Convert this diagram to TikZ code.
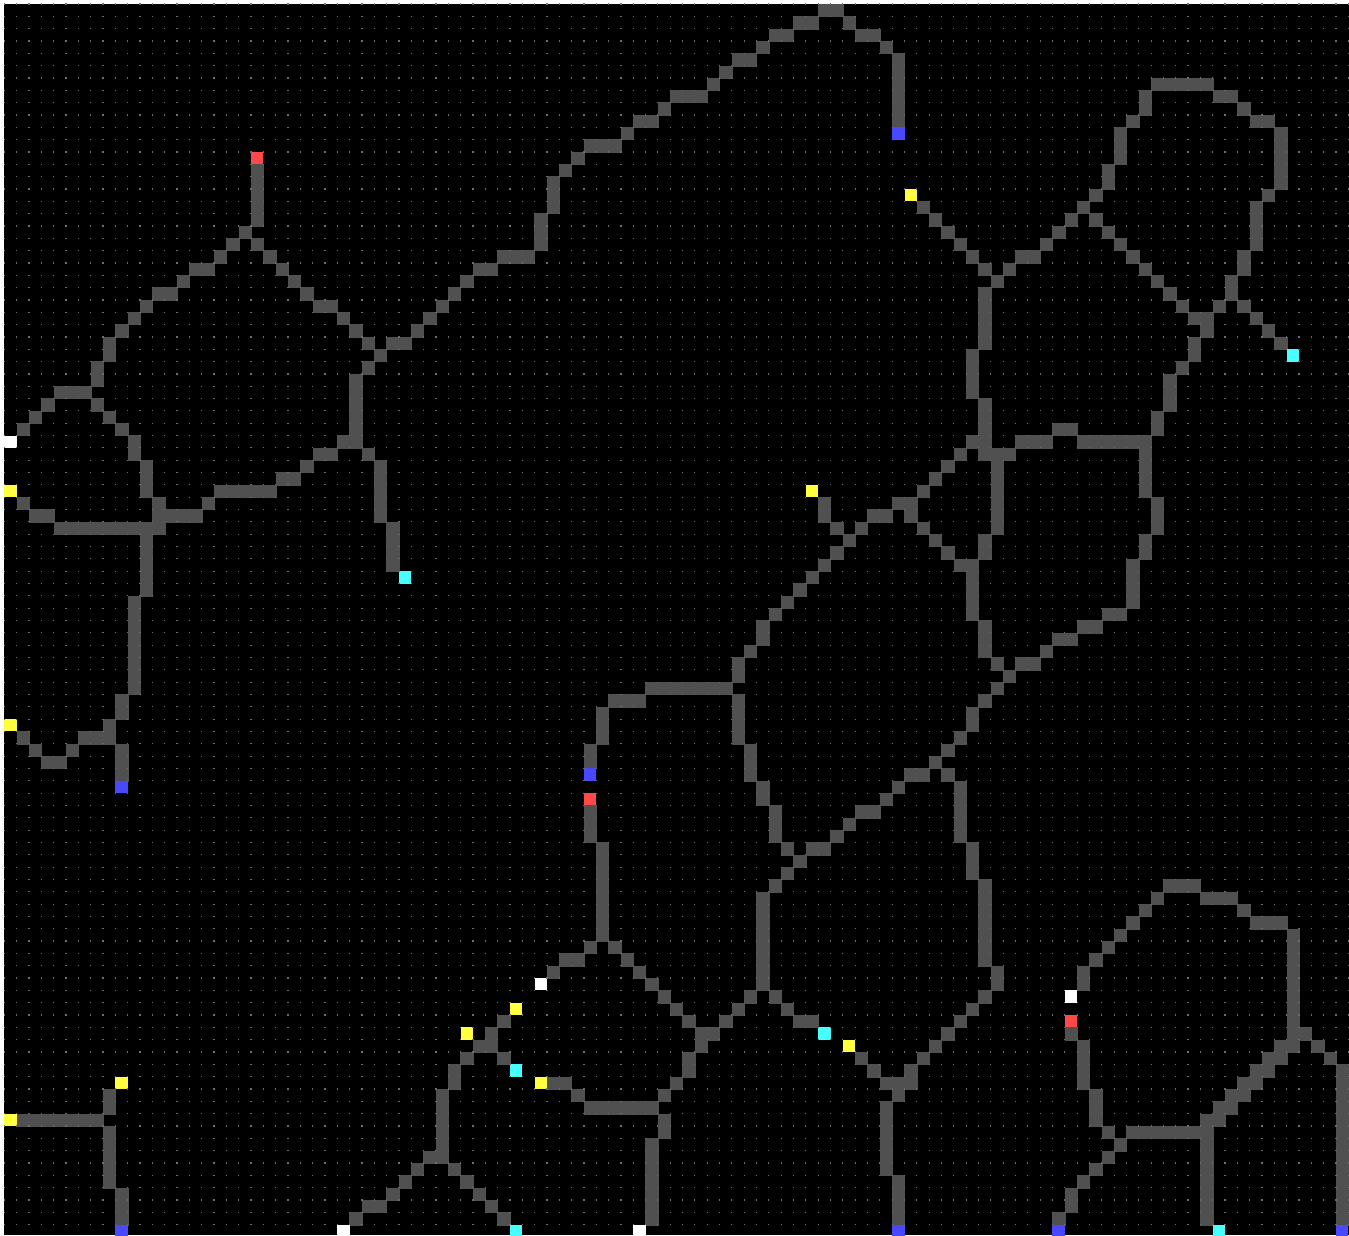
\documentclass[tikz,border=0pt]{standalone}
\usepackage{tikz}
\definecolor{linec}{HTML}{505050}
\definecolor{dotc}{HTML}{6E6E6E}
\definecolor{redc}{HTML}{FF4848}
\definecolor{bluec}{HTML}{4848FF}
\definecolor{cyanc}{HTML}{48FFFF}
\definecolor{yellowc}{HTML}{FFFF40}
\definecolor{whitec}{HTML}{FFFFFF}
\tikzset{
  linecell/.style={fill=linec,draw=linec,line width=0.3pt},
  redcell/.style={fill=redc},
  bluecell/.style={fill=bluec},
  cyancell/.style={fill=cyanc},
  yellowcell/.style={fill=yellowc},
  whitecell/.style={fill=whitec},
  dotrow/.style={draw=dotc,line width=1.2pt,dash pattern=on 1.2pt off 11.13pt}
}
\newcommand\Ccell[3]{\path[#1] ({4.4+12.33*(#2)},{4+12.33*(#3)}) rectangle ++(12.33,12.33);}
\newcommand\Gcell[2]{\Ccell{linecell}{#1}{#2}}
\newcommand\Hrun[3]{\foreach \k in {#2,...,#3}{\Gcell{\k}{#1}}}
\newcommand\Vrun[3]{\foreach \k in {#2,...,#3}{\Gcell{#1}{\k}}}
\newcommand\Drun[4]{\foreach \k in {1,...,#3}{\Gcell{#1+(#4)*(\k-1)}{#2+\k-1}}}
\begin{document}
\begin{tikzpicture}[x=1pt,y=-1pt]
\useasboundingbox (0,0) rectangle (1349,1235);
\clip (0,0) rectangle (1349,1235);
\fill[white] (0,0) rectangle (1349,1235);
\fill[black] (4.4,4) rectangle (1349,1235);
% ---------- top-left ----------
\Vrun{20}{13}{17}
\Gcell{19}{18}\Gcell{18}{19}\Gcell{17}{20}
\Hrun{21}{15}{16}
\Gcell{14}{22}
\Hrun{23}{12}{13}
\Drun{11}{24}{3}{-1}
\Vrun{8}{27}{28}
\Vrun{7}{29}{30}
\Hrun{31}{4}{6}
\Drun{3}{32}{3}{-1}
\Drun{7}{32}{3}{1}
\Vrun{10}{35}{36}
\Vrun{11}{37}{39}
\Vrun{12}{40}{42}
\Drun{20}{19}{5}{1}
\Hrun{24}{25}{26}
\Drun{27}{25}{4}{1}
\Gcell{29}{29}
\Vrun{28}{30}{35}
\Gcell{27}{35}
\Hrun{36}{25}{26}
\Gcell{24}{37}
\Hrun{38}{22}{23}
\Hrun{39}{17}{21}
\Gcell{16}{40}
\Hrun{41}{13}{15}
\Gcell{29}{36}
\Vrun{30}{37}{41}
\Vrun{31}{42}{45}
\Hrun{27}{31}{32}
\Drun{37}{22}{5}{-1}
\Hrun{21}{38}{39}
\Hrun{20}{40}{42}
\Vrun{43}{17}{19}
\Vrun{44}{14}{16}
\Gcell{45}{13}\Gcell{46}{12}
\Hrun{11}{47}{49}
\Gcell{50}{10}
\Hrun{9}{51}{52}
\Gcell{53}{8}
\Hrun{7}{54}{56}
\Gcell{57}{6}\Gcell{58}{5}
\Hrun{4}{59}{60}
\Gcell{61}{3}
\Hrun{2}{62}{63}
\Hrun{1}{64}{65}
\Hrun{0}{66}{67}
\Gcell{68}{1}
\Hrun{2}{69}{70}
\Gcell{71}{3}
\Vrun{72}{4}{9}
% ---------- left ----------
\Gcell{1}{40}
\Hrun{41}{2}{3}
\Hrun{42}{4}{12}
\Vrun{11}{43}{47}
\Vrun{10}{48}{55}
\Vrun{9}{56}{57}
\Gcell{8}{58}
\Hrun{59}{6}{8}
\Gcell{5}{60}
\Hrun{61}{3}{4}
\Gcell{2}{60}\Gcell{1}{59}
\Vrun{9}{60}{62}
% ---------- bottom-left ----------
\Vrun{8}{88}{89}
\Hrun{90}{1}{7}
\Vrun{8}{91}{95}
\Vrun{9}{96}{98}
% ---------- bottom centre-left ----------
\Gcell{28}{98}
\Hrun{97}{29}{30}
\Drun{33}{94}{3}{-1}
\Hrun{93}{34}{35}
\Vrun{35}{88}{92}
\Vrun{36}{86}{87}
\Gcell{37}{85}
\Hrun{84}{38}{39}
\Gcell{39}{83}
\Gcell{40}{82}
\Gcell{40}{85}
\Drun{36}{94}{5}{1}
\Hrun{87}{44}{45}
\Gcell{46}{88}
\Hrun{89}{47}{52}
% ---------- middle ----------
\Vrun{66}{40}{41}
\Gcell{67}{42}\Gcell{68}{43}\Gcell{69}{42}
\Hrun{41}{70}{71}
\Hrun{40}{72}{73}
\Drun{73}{41}{4}{1}
\Hrun{45}{77}{78}
\Vrun{78}{46}{49}
\Vrun{79}{50}{52}
\Gcell{80}{53}\Gcell{81}{54}\Gcell{80}{55}\Gcell{79}{56}
\Vrun{78}{57}{58}
\Drun{77}{59}{3}{-1}
\Hrun{62}{73}{74}
\Gcell{72}{63}\Gcell{71}{64}
\Hrun{65}{69}{70}
\Gcell{68}{66}\Gcell{67}{67}
\Hrun{68}{65}{66}
\Drun{64}{69}{3}{-1}
\Vrun{61}{72}{79}
\Drun{60}{80}{3}{-1}
\Hrun{83}{56}{57}
\Gcell{56}{84}
\Vrun{55}{85}{86}
\Gcell{54}{87}\Gcell{53}{88}
\Vrun{53}{90}{91}
\Vrun{52}{92}{98}
\Gcell{76}{62}
\Vrun{77}{63}{67}
\Vrun{78}{68}{70}
\Vrun{79}{71}{77}
\Vrun{80}{78}{79}
\Drun{79}{80}{6}{-1}
\Vrun{73}{86}{87}
\Gcell{72}{87}\Gcell{71}{87}\Gcell{72}{88}
\Vrun{71}{89}{94}
\Vrun{72}{95}{98}
\Gcell{70}{86}\Gcell{69}{85}
\Drun{67}{44}{6}{-1}
\Vrun{61}{50}{51}
\Gcell{60}{52}
\Vrun{59}{53}{54}
\Hrun{55}{52}{58}
\Hrun{56}{49}{51}
\Vrun{48}{57}{59}
\Vrun{47}{60}{61}
\Vrun{47}{65}{67}
\Vrun{48}{68}{75}
\Gcell{47}{76}
\Hrun{77}{45}{46}
\Gcell{44}{78}
\Drun{49}{76}{7}{1}
\Vrun{59}{56}{59}
\Vrun{60}{60}{62}
\Vrun{61}{63}{64}
\Vrun{62}{65}{67}
\Gcell{63}{68}
\Drun{62}{80}{2}{1}
\Hrun{82}{64}{65}
% ---------- upper right ----------
\Drun{74}{16}{7}{1}
\Vrun{79}{23}{27}
\Vrun{78}{28}{31}
\Vrun{79}{32}{36}
\Hrun{36}{80}{81}
\Vrun{80}{37}{42}
\Vrun{79}{43}{44}
\Gcell{81}{21}
\Hrun{20}{82}{83}
\Drun{88}{15}{5}{-1}
\Vrun{89}{13}{14}
\Vrun{90}{10}{12}
\Gcell{91}{9}
\Vrun{92}{7}{8}
\Hrun{6}{93}{97}
\Hrun{7}{98}{99}
\Gcell{100}{8}
\Hrun{9}{101}{102}
\Vrun{103}{10}{14}
\Gcell{102}{15}
\Vrun{101}{16}{19}
\Vrun{100}{20}{21}
\Vrun{99}{22}{23}
\Gcell{98}{24}
\Hrun{25}{96}{97}
\Gcell{97}{26}
\Vrun{96}{27}{28}
\Gcell{95}{29}
\Vrun{94}{30}{32}
\Vrun{93}{33}{34}
\Hrun{35}{87}{92}
\Hrun{34}{85}{86}
\Hrun{35}{82}{84}
\Drun{88}{17}{9}{1}
\Drun{100}{24}{4}{1}
\Drun{78}{35}{5}{-1}
\Vrun{92}{36}{39}
\Vrun{93}{40}{42}
\Vrun{92}{43}{44}
\Vrun{91}{45}{48}
\Hrun{49}{89}{90}
\Hrun{50}{87}{88}
\Hrun{51}{85}{86}
\Gcell{84}{52}
\Hrun{53}{82}{83}
% ---------- bottom right ----------
\Gcell{86}{83}
\Vrun{87}{84}{87}
\Vrun{88}{88}{90}
\Gcell{89}{91}\Gcell{90}{92}
\Drun{89}{93}{3}{-1}
\Vrun{86}{96}{97}
\Gcell{85}{98}
\Vrun{87}{78}{79}
\Drun{93}{72}{6}{-1}
\Hrun{71}{94}{96}
\Hrun{72}{97}{99}
\Gcell{100}{73}
\Hrun{74}{101}{103}
\Vrun{104}{75}{83}
\Drun{105}{83}{3}{1}
\Vrun{108}{86}{98}
\Hrun{84}{103}{104}
\Hrun{85}{102}{103}
\Hrun{86}{101}{102}
\Hrun{87}{100}{101}
\Hrun{88}{99}{100}
\Hrun{89}{98}{99}
\Hrun{90}{97}{98}
\Hrun{91}{91}{97}
\Vrun{97}{92}{98}
% ---------- coloured end cells ----------
\foreach \i/\j in {20/12,47/64,86/82}{\Ccell{redcell}{\i}{\j}}
\foreach \i/\j in {72/10,9/63,47/62,9/99,72/99,85/99,108/99}{\Ccell{bluecell}{\i}{\j}}
\foreach \i/\j in {104/28,32/46,41/86,66/83,41/99,98/99}{\Ccell{cyancell}{\i}{\j}}
\foreach \i/\j in {73/15,0/39,65/39,0/58,9/87,0/90,41/81,37/83,43/87,68/84}{\Ccell{yellowcell}{\i}{\j}}
\foreach \i/\j in {0/35,43/79,27/99,51/99,86/80}{\Ccell{whitecell}{\i}{\j}}
% ---------- grid dots ----------
\foreach \r in {0,...,100}{\draw[dotrow] (3.8,{4+12.33*\r}) -- (1349,{4+12.33*\r});}
\end{tikzpicture}
\end{document}
